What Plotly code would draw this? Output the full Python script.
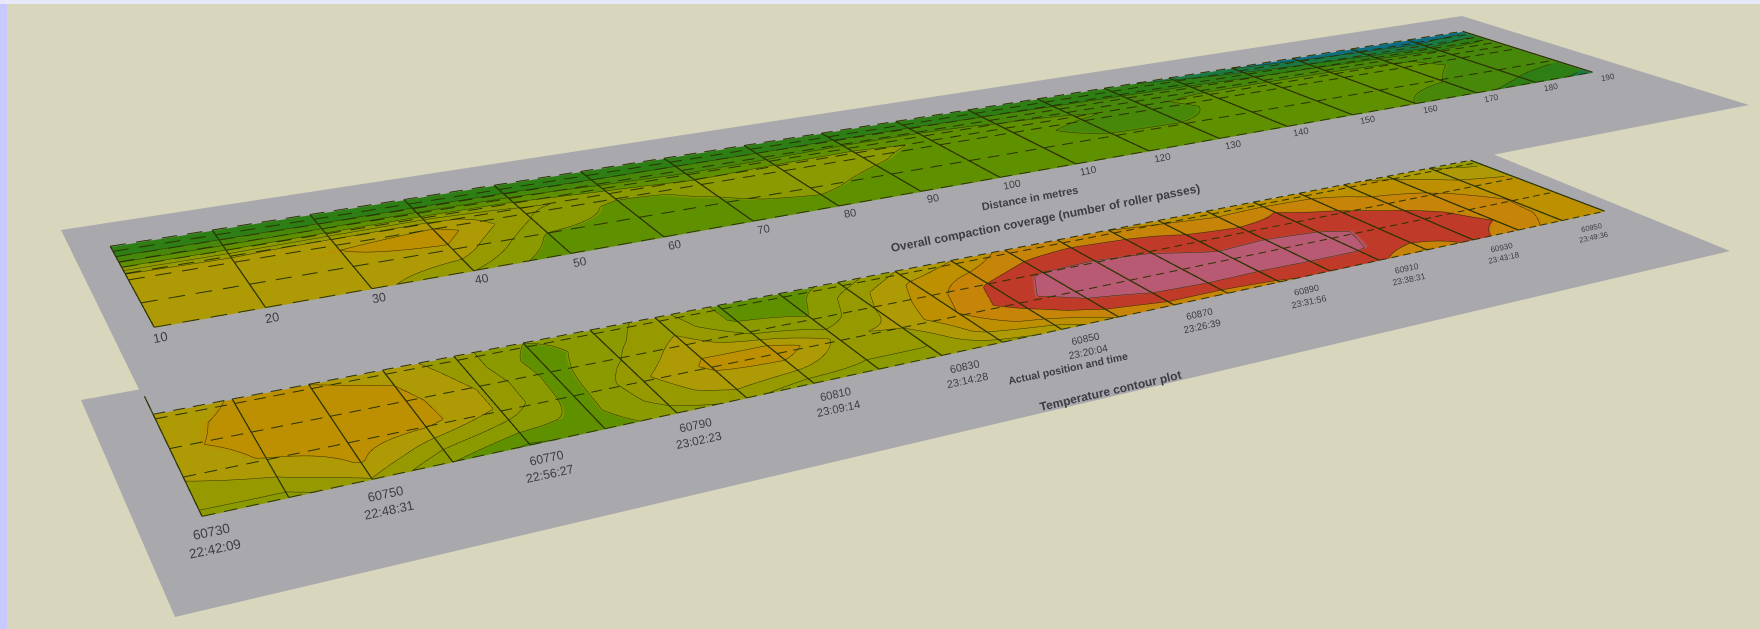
import math
import numpy as np
import plotly.graph_objects as go

# ---- data (colour-band levels) ----
distance_ticks = [str(d) for d in range(10, 200, 10)]
coverage_rows = [0, 0.12, 0.24, 0.36, 0.5, 0.75, 1.0]
coverage_dash_rows = [0, 0.07, 0.14, 0.21, 0.28, 0.36, 0.44, 0.72, 1.0]
cov_10 = [2.6, 2.9, 4.4, 7.0, 7.9, 7.9, 7.5]
cov_20 = [2.6, 2.9, 4.4, 6.9, 7.9, 7.9, 7.4]
cov_30 = [2.6, 2.9, 4.6, 7.2, 8.0, 7.7, 7.3]
cov_40 = [2.6, 3.0, 4.8, 7.4, 8.6, 7.6, 6.0]
cov_50 = [2.6, 3.0, 4.8, 6.2, 6.0, 4.8, 4.2]
cov_60 = [2.5, 2.9, 4.2, 5.6, 4.7, 4.6, 4.1]
cov_70 = [2.5, 2.9, 3.9, 5.0, 5.2, 4.8, 4.1]
cov_80 = [2.5, 2.9, 4.0, 5.3, 5.9, 5.3, 4.2]
cov_90 = [2.6, 3.0, 4.2, 5.4, 5.2, 4.4, 4.1]
cov_100 = [2.5, 3.0, 4.2, 4.8, 4.4, 4.2, 4.1]
cov_110 = [2.4, 2.9, 3.9, 4.4, 4.2, 4.2, 4.1]
cov_120 = [2.3, 2.8, 3.8, 4.1, 3.8, 4.1, 4.1]
cov_130 = [2.2, 2.7, 3.7, 3.8, 3.7, 4.1, 4.1]
cov_140 = [1.8, 2.6, 3.6, 4.3, 4.2, 4.2, 4.2]
cov_150 = [1.0, 2.3, 3.5, 4.4, 4.4, 4.3, 4.2]
cov_160 = [0.5, 1.9, 3.4, 4.4, 4.4, 4.3, 4.0]
cov_170 = [0.3, 1.5, 3.2, 4.2, 4.3, 4.0, 3.2]
cov_180 = [0.2, 1.2, 2.9, 3.6, 3.8, 3.4, 2.6]
cov_190 = [0.6, 2.2, 3.4, 3.8, 3.7, 3.0, 1.6]
coverage_cols = [cov_10, cov_20, cov_30, cov_40, cov_50, cov_60, cov_70, cov_80, cov_90, cov_100,
                 cov_110, cov_120, cov_130, cov_140, cov_150, cov_160, cov_170, cov_180, cov_190]

position_labels = ["60730<br>22:42:09", "60750<br>22:48:31", "60770<br>22:56:27", "60790<br>23:02:23",
                   "60810<br>23:09:14", "60830<br>23:14:28", "60850<br>23:20:04", "60870<br>23:26:39",
                   "60890<br>23:31:56", "60910<br>23:38:31", "60930<br>23:43:18", "60950<br>23:49:36"]
temperature_rows = [0, 0.18, 0.38, 0.6, 0.82, 1.0]
temperature_dash_rows = [0, 0.05, 0.36, 0.64, 1.0]
temp_r0 = [7.2,8.1,8.0,7.6,6.4,5.0,5.4,6.4,4.8,4.4,5.4,7.0,8.0,9.3,9.2,9.0,8.7,8.4,8.2,8.3,8.2,7.8,7.0,6.4]
temp_r1 = [7.6,8.3,8.4,8.0,6.6,4.5,5.6,6.8,4.8,4.6,6.6,8.2,9.0,10.0,10.4,10.2,9.8,9.5,10.0,9.6,8.8,8.6,7.8,7.4]
temp_r2 = [7.8,8.3,8.5,8.3,6.9,4.6,6.0,7.6,6.0,5.2,7.0,8.6,10.2,11.2,11.2,11.0,10.5,10.5,10.4,10.2,9.7,9.2,8.6,8.3]
temp_r3 = [7.3,8.1,8.5,8.4,6.9,4.5,6.8,8.2,8.9,6.8,7.2,9.0,10.6,11.6,11.8,11.7,11.3,11.5,11.3,10.7,10.4,9.7,9.0,8.7]
temp_r4 = [6.4,6.9,8.1,6.4,5.4,4.7,6.4,7.6,7.2,6.2,6.0,8.4,9.4,10.6,11.0,11.2,11.1,11.1,11.1,10.6,10.6,10.0,8.9,8.7]
temp_r5 = [5.8,5.6,6.9,5.0,3.8,4.4,5.6,6.2,5.4,5.6,6.0,6.6,7.2,9.0,9.6,9.5,9.8,10.3,10.3,8.8,10.4,9.4,8.6,8.3]
temperature = [temp_r0, temp_r1, temp_r2, temp_r3, temp_r4, temp_r5]
band_colours = ["#0c6e82", "#1a7a45", "#2d7e14", "#47870a", "#5f9000", "#8a9a00", "#969a00",
                "#ad9a05", "#bc9000", "#c68408", "#bf3a28", "#b85a74"]

# ---- view ----
W, H = 1760, 629
LEFT, TOP = 7, 4
GREY = "#a9a9ad"
LINE = "#2b3300"
EPS = 0.0001
D = 2.0
TH = math.radians(49)
eye = np.array([0, -D * math.cos(TH), D * math.sin(TH)])
fwd = -eye / D
right = np.cross(fwd, [0, 0, 1.0]); right /= np.linalg.norm(right)
upv = np.cross(right, fwd)
SW, SH = W - LEFT, H - TOP
F = (1 / math.tan(math.pi / 8)) * SH / 2
CX, CY = LEFT + SW / 2, TOP + SH / 2


def ground(px, py, z):
    d = right * (px - CX) / F + upv * (CY - py) / F + fwd
    t = (z - eye[2]) / d[2]
    return (eye + t * d)[:2]


def quad_map(corners, z):
    """Projective map of the unit square onto a picture quadrilateral lying on plane z."""
    pts = [ground(px, py, z) for px, py in corners]
    src = [(0, 0), (1, 0), (1, 1), (0, 1)]
    A, b = [], []
    for (u, v), (x, y) in zip(src, pts):
        A.append([u, v, 1, 0, 0, 0, -u * x, -v * x]); b.append(x)
        A.append([0, 0, 0, u, v, 1, -u * y, -v * y]); b.append(y)
    h = np.linalg.solve(np.array(A), np.array(b))
    def f(u, v):
        u, v = np.asarray(u, float), np.asarray(v, float)
        w = h[6] * u + h[7] * v + 1
        return (h[0] * u + h[1] * v + h[2]) / w, (h[3] * u + h[4] * v + h[5]) / w
    return f


colorscale = []
n = len(band_colours)
for i, c in enumerate(band_colours):
    colorscale += [[i / n, c], [(i + 1) / n, c]]
flat = dict(ambient=1, diffuse=0, specular=0, roughness=1, fresnel=0)
fig = go.Figure()


def add_sheet(sheet, field, values, rows, z0):
    g = quad_map(sheet, z0)
    gx, gy = g([[0, 1], [0, 1]], [[0, 0], [1, 1]])
    fig.add_trace(go.Surface(x=gx, y=gy, z=np.full((2, 2), z0), showscale=False, hoverinfo="skip",
                             colorscale=[[0, GREY], [1, GREY]], lighting=flat))
    zc = z0 + 0.002
    vals = np.array(values, float)
    nr, nc = vals.shape
    m = quad_map(field, zc)
    uu, vv = np.meshgrid(np.arange(nc) / (nc - 1), rows)
    X, Y = m(uu, vv)
    fig.add_trace(go.Surface(x=X, y=Y, z=zc + EPS * vals, surfacecolor=vals, cmin=0, cmax=n,
                             colorscale=colorscale, showscale=False, hoverinfo="skip", lighting=flat,
                             contours=dict(z=dict(show=True, start=zc + EPS, end=zc + EPS * n, size=EPS,
                                                  color=LINE, width=2, highlight=False),
                                           x=dict(highlight=False), y=dict(highlight=False))))
    return m, zc + 0.003


def add_grid(m, zl, ncol, rows, extend_first=0.0):
    sx, sy, sz = [], [], []
    for i in range(ncol):
        u = i / (ncol - 1)
        a, b = m(u, -extend_first if i == 0 else 0.0)
        c, d = m(u, 1.0)
        sx += [float(a), float(c), None]; sy += [float(b), float(d), None]; sz += [zl, zl, None]
    fig.add_trace(go.Scatter3d(x=sx, y=sy, z=sz, mode="lines", hoverinfo="skip", showlegend=False,
                               line=dict(color=LINE, width=2.5)))
    dx, dy, dz = [], [], []
    ndash = (ncol - 1) * 4
    for v in rows:
        for k in range(ndash):
            a, b = m(k / ndash, v)
            c, d = m((k + 0.6) / ndash, v)
            dx += [float(a), float(c), None]; dy += [float(b), float(d), None]; dz += [zl, zl, None]
    fig.add_trace(go.Scatter3d(x=dx, y=dy, z=dz, mode="lines", hoverinfo="skip", showlegend=False,
                               line=dict(color=LINE, width=2)))


annotations = []


def label(m_xy, z, text, size, angle, bold=False):
    annotations.append(dict(x=float(m_xy[0]), y=float(m_xy[1]), z=z, text=f"<b>{text}</b>" if bold else text,
                            showarrow=False, textangle=angle, xanchor="center", yanchor="middle",
                            font=dict(family="Liberation Sans", size=size, color="#3c3c44")))


# upper sheet
m1, z1 = add_sheet([(61, 230), (1462, 16), (1749, 105), (152, 416)],
                   [(111, 247), (1462, 32), (1592, 73), (155, 328)],
                   np.array(coverage_cols).T, coverage_rows, 0.0)
add_grid(m1, z1, len(distance_ticks), coverage_dash_rows)
for i, t in enumerate(distance_ticks):
    label(m1(i / (len(distance_ticks) - 1), 1.11), z1, t, 13 - 5 * i / 18, -11)

# lower sheet
m2, z2 = add_sheet([(81, 400), (1478, 148), (1730, 251), (175, 617)],
                   [(154, 415), (1470, 161), (1604, 212), (203, 517)], temperature, temperature_rows, 0.01)
ncol2 = len(temperature[0])
add_grid(m2, z2, ncol2, temperature_dash_rows, extend_first=0.2)
for i, t in enumerate(position_labels):
    label(m2(2 * i / (ncol2 - 1), 1.21), z2, t, 13.5 - 6 * i / 11, -12)

# titles
label(ground(1030, 198, 0.0), 0.0, "Distance in metres", 11, -10, True)
label(ground(1046, 218, 0.0), 0.0, "Overall compaction coverage (number of roller passes)", 12, -11, True)
label(ground(1068, 368, 0.01), 0.01, "Actual position and time", 10.5, -12, True)
label(ground(1110, 391, 0.01), 0.01, "Temperature contour plot", 12, -13, True)

R = 6
hidden = dict(visible=False, range=[-R, R], autorange=False)
fig.update_layout(
    width=W, height=H, autosize=False, margin=dict(l=0, r=0, t=0, b=0),
    paper_bgcolor="#c6caff", showlegend=False, dragmode=False,
    shapes=[dict(type="rect", xref="paper", yref="paper", x0=0, x1=1, y0=1 - TOP / H, y1=1,
                 fillcolor="#e8e8fb", line_width=0)],
    scene=dict(domain=dict(x=[LEFT / W, 1], y=[0, 1 - TOP / H]), bgcolor="#d8d6bd",
               xaxis=hidden, yaxis=hidden, zaxis=hidden,
               aspectmode="manual", aspectratio=dict(x=2 * R, y=2 * R, z=2 * R),
               camera=dict(eye=dict(x=float(eye[0]), y=float(eye[1]), z=float(eye[2])),
                           center=dict(x=0, y=0, z=0), up=dict(x=0, y=0, z=1),
                           projection=dict(type="perspective")),
               annotations=annotations),
)
fig.write_html("out.html", config=dict(displayModeBar=False), post_script=(
    "document.body.style.margin='0';document.body.style.overflow='hidden';"
    "document.querySelector('.js-plotly-plot').style.filter='blur(0.7px)';"))
